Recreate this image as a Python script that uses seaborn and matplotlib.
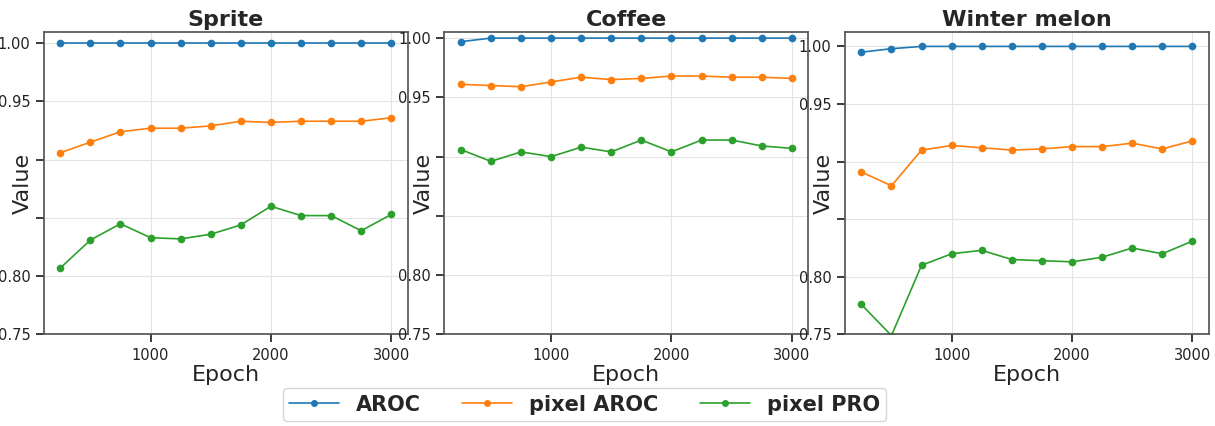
import numpy as np
import pandas as pd
import seaborn as sns
import matplotlib.pyplot as plt

epochs = [250, 500, 750, 1000, 1250, 1500, 1750, 2000, 2250, 2500, 2750, 3000]
metrics = ["AROC", "pixel AROC", "pixel PRO"]
titles = ["Sprite", "Coffee", "Winter melon"]

sprite_aroc = [1.0] * 12
sprite_pix_aroc = [0.906, 0.915, 0.924, 0.927, 0.927, 0.929, 0.933, 0.932, 0.933, 0.933, 0.933, 0.936]
sprite_pix_pro = [0.807, 0.831, 0.845, 0.833, 0.832, 0.836, 0.844, 0.860, 0.852, 0.852, 0.839, 0.853]

coffee_aroc = [0.997, 1.0, 1.0, 1.0, 1.0, 1.0, 1.0, 1.0, 1.0, 1.0, 1.0, 1.0]
coffee_pix_aroc = [0.961, 0.960, 0.959, 0.963, 0.967, 0.965, 0.966, 0.968, 0.968, 0.967, 0.967, 0.966]
coffee_pix_pro = [0.906, 0.896, 0.904, 0.900, 0.908, 0.904, 0.914, 0.904, 0.914, 0.914, 0.909, 0.907]

melon_aroc = [0.995, 0.998, 1.0, 1.0, 1.0, 1.0, 1.0, 1.0, 1.0, 1.0, 1.0, 1.0]
melon_pix_aroc = [0.891, 0.879, 0.910, 0.914, 0.912, 0.910, 0.911, 0.913, 0.913, 0.916, 0.911, 0.918]
melon_pix_pro = [0.776, 0.749, 0.810, 0.820, 0.823, 0.815, 0.814, 0.813, 0.817, 0.825, 0.820, 0.831]

panels = [
    (sprite_aroc, sprite_pix_aroc, sprite_pix_pro),
    (coffee_aroc, coffee_pix_aroc, coffee_pix_pro),
    (melon_aroc, melon_pix_aroc, melon_pix_pro),
]

sns.set_theme(style="ticks")
plt.rcParams["font.family"] = ["DejaVu Sans"]

fig, axes = plt.subplots(1, 3, figsize=(12.15, 4.26), dpi=100)
palette = ["#1f77b4", "#ff7f0e", "#2ca02c"]

for ax, title, series in zip(axes, titles, panels):
    rows = []
    for name, vals in zip(metrics, series):
        for e, v in zip(epochs, vals):
            rows.append({"Epoch": e, "Value": v, "Metric": name})
    df = pd.DataFrame(rows)
    sns.lineplot(data=df, x="Epoch", y="Value", hue="Metric", palette=palette,
                 marker="o", markersize=5.5, markeredgewidth=0, linewidth=1.2,
                 ax=ax, legend=False)
    ax.set_ylim(bottom=0.75)
    ax.set_yticks([0.75, 0.80, 0.85, 0.90, 0.95, 1.00])
    ax.set_yticklabels(["0.75", "0.80", "", "", "0.95", "1.00"])
    ax.set_xticks([1000, 2000, 3000])
    ax.grid(True, color="#e3e3e3", linewidth=0.8)
    ax.tick_params(labelsize=10.5, colors="#222222")
    ax.set_title(title, fontsize=16, fontweight="bold", pad=4)
    ax.set_xlabel("Epoch", fontsize=16, labelpad=2)
    ax.set_ylabel("Value", fontsize=16)
    ax.yaxis.set_label_coords(-0.03, 0.5)
    for s in ax.spines.values():
        s.set_color("#555555")

handles = [plt.Line2D([], [], color=c, marker="o", markersize=4, linewidth=1.2) for c in palette]
fig.legend(handles, metrics, loc="center", bbox_to_anchor=(0.481, 0.05), ncol=3,
           prop={"weight": "bold", "size": 15}, frameon=True, edgecolor="#cccccc",
           handlelength=2.4, columnspacing=2.0, borderpad=0.3)

fig.subplots_adjust(left=0.036, right=0.995, top=0.925, bottom=0.215, wspace=0.1)
fig.savefig("out.png", dpi=100)
